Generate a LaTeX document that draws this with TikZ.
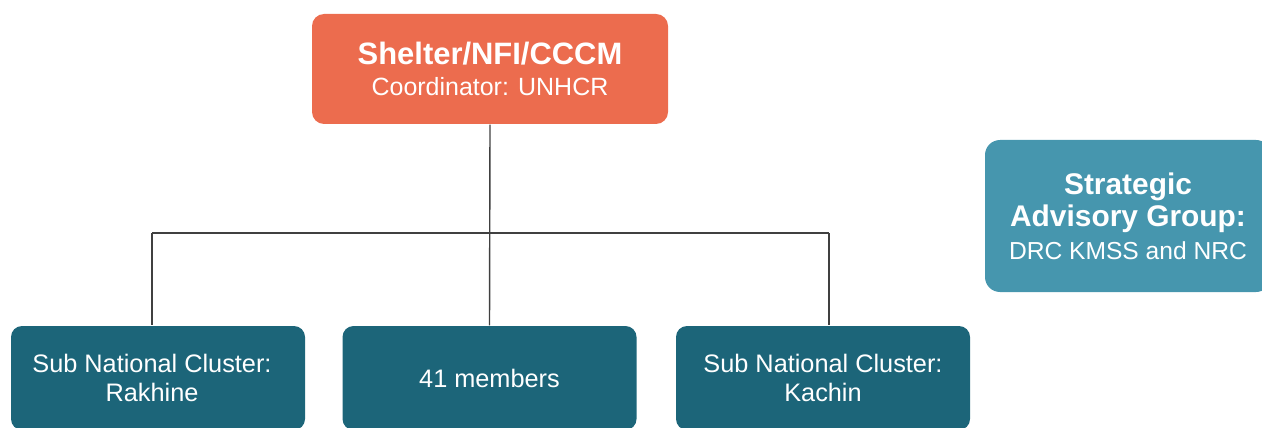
\documentclass[tikz,border=0pt]{standalone}
\usepackage{fontspec}
\setmainfont{Liberation Sans}
\usetikzlibrary{positioning, calc}
\definecolor{coral}{HTML}{EC6C4E}
\definecolor{deepteal}{HTML}{1C6579}
\definecolor{lightteal}{HTML}{4696AE}
\definecolor{wire}{HTML}{404040}

\begin{document}
\begin{tikzpicture}[
  box/.style={rounded corners=0.11cm, text=white, align=center, inner sep=0pt,
              font=\fontsize{7.2}{8.3}\selectfont},
  head/.style={box, fill=coral, minimum width=3.56cm, minimum height=1.10cm,
               rounded corners=0.12cm, font=\fontsize{7.1}{8.6}\selectfont},
  sub/.style={box, fill=deepteal, minimum width=2.94cm, minimum height=1.04cm},
  adv/.style={box, fill=lightteal, minimum width=2.86cm, minimum height=1.52cm,
              rounded corners=0.15cm, font=\fontsize{7.0}{9.2}\selectfont},
  link/.style={draw=wire, line width=0.4pt}
]
\useasboundingbox (0,0) rectangle (12.62,4.27);

% ================= lead =================
\node[head] (lead) at (4.90, 3.58)
  {{\fontsize{8.8}{8.6}\selectfont\bfseries Shelter/NFI/CCCM}\\ Coordinator: UNHCR};

% ================= advisory group =================
\node[adv] (sag) at (11.28, 2.11)
  {{\fontsize{8.5}{9.2}\selectfont\bfseries Strategic}\\
   {\fontsize{8.5}{9.2}\selectfont\bfseries Advisory Group:}\\ DRC KMSS and NRC};

% ================= bottom row =================
\node[sub] (rakhine) at (1.58, 0.49) {Sub National Cluster:\hspace*{0.12cm}\\ Rakhine\hspace*{0.12cm}};
\node[sub] (members) at (4.895, 0.49) {41 members};
\node[sub] (kachin)  at (8.23, 0.49) {Sub National Cluster:\\ Kachin};

% ================= connectors =================
\coordinate (busL) at (1.52, 1.94);
\coordinate (busR) at (8.29, 1.94);
\draw[link] (lead.south) -- (members.north);
\draw[link] (busL) -- (busR);
\draw[link] (busL) -- (busL |- rakhine.north);
\draw[link] (busR) -- (busR |- kachin.north);

\end{tikzpicture}
\end{document}
